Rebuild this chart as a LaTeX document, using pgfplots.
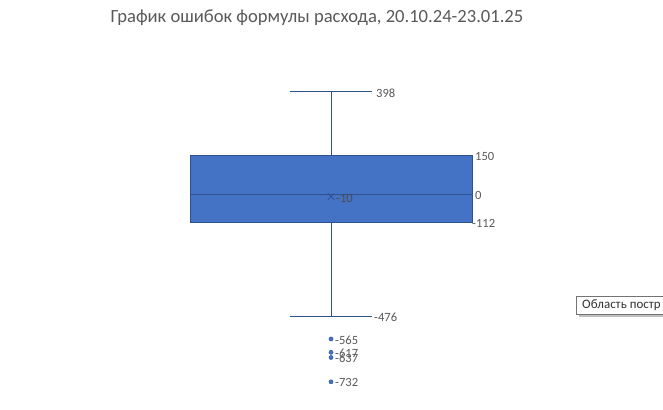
\documentclass[border=0pt]{standalone}
\usepackage{pgfplots}
\pgfplotsset{compat=1.18}
\usepgfplotslibrary{statistics}
\usepackage{fontspec}
\setmainfont{Carlito}
\definecolor{boxfill}{HTML}{4472C4}
\definecolor{boxedge}{HTML}{2F528F}
\definecolor{labelgray}{HTML}{595959}
\begin{document}
\begin{tikzpicture}
\useasboundingbox (0,0) rectangle (663bp,410bp);
\begin{axis}[
  scale only axis,
  width=663bp, height=410bp,
  xmin=0, xmax=663,
  ymin=-841.7, ymax=756.0,
  hide axis, clip=false,
  boxplot/draw direction=y,
  boxplot/every average/.style={/tikz/mark=x, /tikz/mark size=4.5bp, /tikz/draw=boxedge!60!gray},
]
% box and whiskers of the formula error
\addplot[fill=boxfill, draw=boxedge, line width=0.8pt,
  boxplot prepared={
    lower whisker=-476, lower quartile=-112, median=0,
    upper quartile=150, upper whisker=398, average=-10,
    draw position=331, box extend=282, whisker extend=82}]
  coordinates {};
% outliers
\addplot[only marks, mark=*, mark size=2.1bp, color=boxfill, draw=boxedge]
  coordinates {(331,-565) (331,-617) (331,-637) (331,-732)};

\begin{scope}[font=\fontsize{12.6}{14}\selectfont, text=labelgray, inner sep=0pt]
\node[anchor=west] at (axis cs:376,394) {398};
\node[anchor=west] at (axis cs:475,146) {150};
\node[anchor=west] at (axis cs:475,-4) {0};
\node[anchor=west] at (axis cs:472,-116) {-112};
\node[anchor=west] at (axis cs:374,-480) {-476};
\node[anchor=west, text=black!70] at (axis cs:336,-16) {-10};
\node[anchor=west] at (axis cs:335,-569) {-565};
\node[anchor=west] at (axis cs:335,-621) {-617};
\node[anchor=west] at (axis cs:335,-641) {-637};
\node[anchor=west] at (axis cs:335,-736) {-732};
\end{scope}

\node[font=\fontsize{18.67}{22}\selectfont, text=labelgray] at (axis cs:317,686)
  {График ошибок формулы расхода, 20.10.24-23.01.25};

% hover tip over the plot area
\fill[black!25] (axis cs:579,-405) rectangle (axis cs:670,-479);
\draw[black!55, fill=white, line width=0.5pt] (axis cs:576,-397) rectangle (axis cs:670,-468);
\node[anchor=west, inner sep=0pt, font=\fontsize{13}{15}\selectfont, text=black!80]
  at (axis cs:582,-434) {Область постр};
\end{axis}
\end{tikzpicture}
\end{document}
